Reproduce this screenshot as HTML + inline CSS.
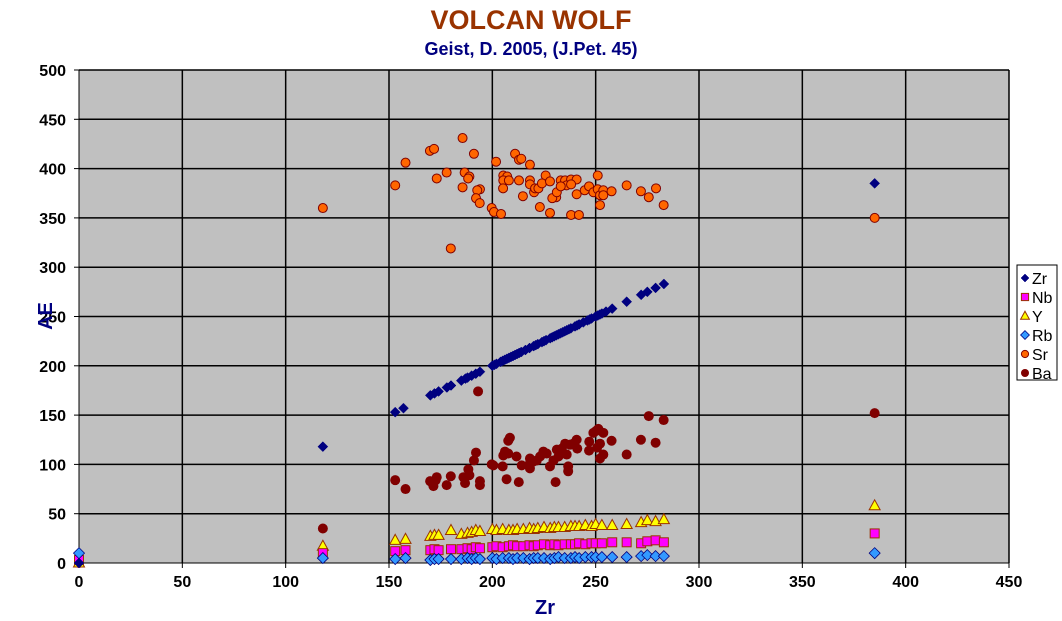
<!DOCTYPE html>
<html><head><meta charset="utf-8"><style>
body{margin:0;background:#fff;}
svg{display:block;font-family:"Liberation Sans",Arial,sans-serif;}
</style></head><body>
<svg id="chart" width="1062" height="621" xmlns="http://www.w3.org/2000/svg">
<text x="531" y="29" text-anchor="middle" font-size="27" font-weight="bold" fill="#993300">VOLCAN WOLF</text>
<text x="531" y="55" text-anchor="middle" font-size="18" font-weight="bold" fill="#000080">Geist, D. 2005, (J.Pet. 45)</text>
<rect x="79" y="70" width="930" height="493" fill="#c0c0c0"/>
<g id="grid"></g>
<g id="axes"></g>
<g id="marks"></g>
<text x="52" y="316" text-anchor="middle" font-size="20" font-weight="bold" fill="#000080" transform="rotate(-90 52 316)">AE</text>
<text x="545" y="614" text-anchor="middle" font-size="20" font-weight="bold" fill="#000080">Zr</text>
<g id="legend"></g>
</svg>
<script>
const xTicks=[0,50,100,150,200,250,300,350,400,450];
const yTicks=[0,50,100,150,200,250,300,350,400,450,500];
const zrX=[0,118,153,157,170,172,174,178,180,185,187,188,190,192,194,200,201,202,204,205,206,207,208,209,210,211,212,213,214,216,218,220,221,222,224,225,226,228,229,230,231,232,233,234,235,236,237,238,240,241,242,244,246,247,248,250,251,252,253,255,258,265,272,275,279,283,385];
const srX=[0,118,153,158,169.8,171.8,185.6,191.1,173.1,177.9,186.6,188.9,188.3,185.6,194,192.7,192.1,193.9,199.7,200.8,204.2,201.8,211,212.9,214,218.2,205.3,207.2,205.3,208,212.9,205.2,218.2,218.2,214.8,220.2,220.7,222.3,223,225.8,224,227.9,227.9,230.9,229,231.2,233.1,235.2,238.1,240.8,235.9,233.1,238.1,240.8,238.1,241.9,244.7,246.8,248.9,251,251,252.1,252.1,253.7,253.7,257.7,265,271.9,275.7,279.2,282.9,179.9,385];
const srY=[0,360,383,406,418,420,431,415,390,396,396,392,390,381,379,378,370,365,360,356,354,407,415,409,410,404,393,392,388,388,388,380,388,384,372,376,380,380,361,393,385,387,355,371,370,376,388,388,389,389,383,382,384,374,353,353,378,382,376,393,379,373,363,378,373,377,383,377,371,380,363,319,350];
const baX=[0,118,153,158,193.1,275.7,282.9,250.2,251.3,253.7,257.7,271.9,279,248.9,252.1,250.7,253.7,252.1,265,246.9,246.8,240.8,239.1,241.1,235.2,237.6,233.6,232.8,236,231.2,232,229.6,236.7,236.7,230.6,227.9,224.7,226.3,223.1,221.5,219.9,218.2,218.2,214.2,217.4,206.9,212.8,208.5,207.7,206.1,205.3,207.7,211.7,200.5,199.7,205,192.1,191.1,188.4,188.9,186,186.8,194,194,179.9,177.9,173.1,172.6,169.9,171.5,385];
const baY=[3,35,84,75,174,149,145,134,136,132,124,125,122,132,121,117,110,106,110,123,114,125,121,116,121,120,116,111,110,115,108,104,98,93,82,98,113,111,108,104,103,106,96,99,99,85,82,127,124,113,109,111,108,99,100,98,112,104,95,89,87,81,83,79,88,79,87,84,83,78,152];
const yX=[0,118,153,158,170,172,174,180,185,188,190,192,194,200,202,205,208,210,212,215,218,220,222,225,228,230,232,235,238,240,242,245,248,250,253,258,265,272,275,279,283,385];
const yY=[0,17,23,24,27,28,28,33,29,30,31,33,32,34,33,34,33,33,34,34,35,34,35,36,35,36,36,36,37,37,37,38,37,39,38,38,39,41,43,42,44,58];
const nbX=[0,118,153,158,170,172,174,180,185,188,190,192,194,200,202,205,208,210,212,215,218,220,222,225,228,230,232,235,238,240,242,245,248,250,253,258,265,272,275,279,283,385];
const nbY=[3,10,12,13,13,14,13,14,14,15,14,16,15,16,17,16,17,18,17,17,18,17,18,19,18,19,18,19,19,19,20,19,20,20,20,21,21,20,22,23,21,30];
const rbX=[0,118,153,158,170,172,174,180,185,188,190,192,194,200,202,205,208,210,212,215,218,220,222,225,228,230,232,235,238,240,242,245,248,250,253,258,265,272,275,279,283,385];
const rbY=[10,5,4,5,3,4,4,4,4,5,4,5,4,5,4,5,5,4,5,5,4,5,5,5,4,5,6,5,5,6,5,6,6,6,6,6,6,7,8,7,7,10];

const X0=79,X1=1009,Y0=563,Y1=70;
const sx=v=>X0+(v/450)*(X1-X0);
const sy=v=>Y0-(v/500)*(Y0-Y1);
const NS='http://www.w3.org/2000/svg';
function mk(tag,attrs,parent){const e=document.createElementNS(NS,tag);for(const k in attrs)e.setAttribute(k,attrs[k]);parent.appendChild(e);return e;}
const grid=document.getElementById('grid'),axes=document.getElementById('axes'),marks=document.getElementById('marks'),legend=document.getElementById('legend');
xTicks.forEach(t=>{
  if(t>0){const l=mk('line',{x1:sx(t),x2:sx(t),y1:Y1,y2:Y0,stroke:'#000','stroke-width':1.5},grid);
  
  }
  const tk=mk('line',{x1:sx(t),x2:sx(t),y1:Y0,y2:Y0+5,stroke:'#000','stroke-width':1},axes);
  
  
  const tx=mk('text',{x:sx(t),y:Y0+24,'text-anchor':'middle','font-size':16,'font-weight':'bold'},axes);
  tx.textContent=t;
  
  
});
yTicks.forEach(t=>{
  if(t>0){const l=mk('line',{x1:X0,x2:X1,y1:sy(t),y2:sy(t),stroke:'#000','stroke-width':1.5},grid);
  
  }
  const tk=mk('line',{x1:X0-5,x2:X0,y1:sy(t),y2:sy(t),stroke:'#000','stroke-width':1},axes);
  
  
  const tx=mk('text',{x:X0-13,y:sy(t)+6,'text-anchor':'end','font-size':16,'font-weight':'bold'},axes);
  tx.textContent=t;
  
  
});
const ax=mk('path',{d:`M${X0} ${Y1}V${Y0}H${X1}`,fill:'none',stroke:'#000','stroke-width':1},axes);



function marker(type,cx,cy,parent,s){
  s=s||1;let e;
  if(type==='Zr'){e=mk('path',{d:`M${cx} ${cy-5*s}L${cx+5*s} ${cy}L${cx} ${cy+5*s}L${cx-5*s} ${cy}Z`,fill:'#000080',stroke:'#000080','stroke-width':0.5},parent);}
  else if(type==='Nb'){e=mk('rect',{x:cx-4.5*s,y:cy-4.5*s,width:9*s,height:9*s,fill:'#ff00ff',stroke:'#993300','stroke-width':1},parent);}
  else if(type==='Y'){e=mk('path',{d:`M${cx} ${cy-6*s}L${cx+5.5*s} ${cy+4*s}L${cx-5.5*s} ${cy+4*s}Z`,fill:'#ffff00',stroke:'#993300','stroke-width':1},parent);}
  else if(type==='Rb'){e=mk('path',{d:`M${cx} ${cy-5.5*s}L${cx+5.5*s} ${cy}L${cx} ${cy+5.5*s}L${cx-5.5*s} ${cy}Z`,fill:'#3399ff',stroke:'#000080','stroke-width':0.8},parent);}
  else if(type==='Sr'){e=mk('circle',{cx:cx,cy:cy,r:4.5*s,fill:'#ff6600',stroke:'#800000','stroke-width':1},parent);}
  else {e=mk('circle',{cx:cx,cy:cy,r:5*s,fill:'#800000'},parent);}
  return e;
}
function series(name,xs,ys){
  const g=mk('g',{},marks);
  
  
  xs.forEach((x,i)=>{const e=marker(name,sx(x),sy(ys[i]),g);
    
    });
}
series('Sr',srX,srY);
series('Ba',baX,baY);
series('Y',yX,yY);
series('Nb',nbX,nbY);
series('Rb',rbX,rbY);
series('Zr',zrX,zrX);

const lb=mk('rect',{x:1017,y:265,width:40,height:115,fill:'#fff',stroke:'#000','stroke-width':1},legend);


const names=['Zr','Nb','Y','Rb','Sr','Ba'];
names.forEach((n,i)=>{
  const cy=278+i*19;
  const g=mk('g',{},legend);
  
  
  marker(n,1025,cy,g,0.8);
  const t=mk('text',{x:1032,y:cy+6,'font-size':16},g);
  t.textContent=n;
});
</script>
</body></html>
